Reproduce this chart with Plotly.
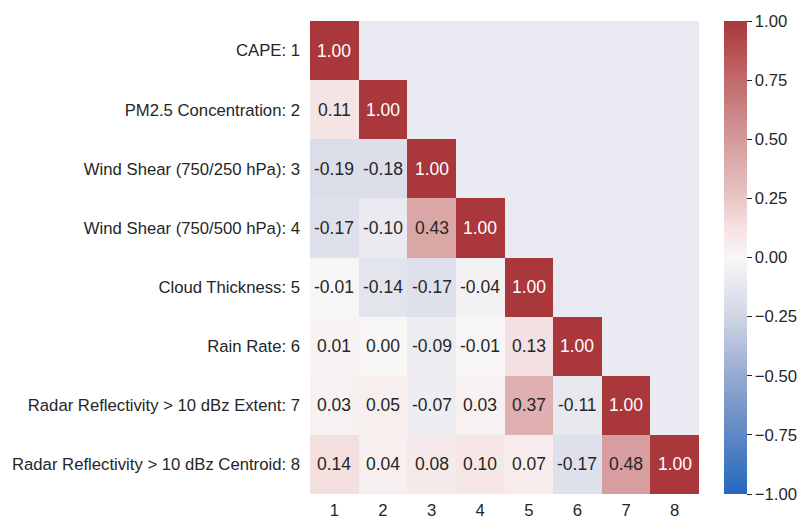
import plotly.graph_objects as go

# Variable names and their correlation matrix (lower triangle incl. diagonal)
labels = [
    "CAPE: 1",
    "PM2.5 Concentration: 2",
    "Wind Shear (750/250 hPa): 3",
    "Wind Shear (750/500 hPa): 4",
    "Cloud Thickness: 5",
    "Rain Rate: 6",
    "Radar Reflectivity > 10 dBz Extent: 7",
    "Radar Reflectivity > 10 dBz Centroid: 8",
]
col_ids = [1, 2, 3, 4, 5, 6, 7, 8]

row1 = [1.00]
row2 = [0.11, 1.00]
row3 = [-0.19, -0.18, 1.00]
row4 = [-0.17, -0.10, 0.43, 1.00]
row5 = [-0.01, -0.14, -0.17, -0.04, 1.00]
row6 = [0.01, 0.00, -0.09, -0.01, 0.13, 1.00]
row7 = [0.03, 0.05, -0.07, 0.03, 0.37, -0.11, 1.00]
row8 = [0.14, 0.04, 0.08, 0.10, 0.07, -0.17, 0.48, 1.00]
rows = [row1, row2, row3, row4, row5, row6, row7, row8]

cbar_ticks = [-1.0, -0.75, -0.5, -0.25, 0.0, 0.25, 0.5, 0.75, 1.0]

# diverging blue-white-red colormap (vlag-like)
stops = [
    (0.000, (35, 105, 189)),
    (0.125, (95, 135, 197)),
    (0.250, (150, 170, 208)),
    (0.375, (208, 213, 229)),
    (0.4375, (230, 231, 238)),
    (0.500, (249, 246, 246)),
    (0.5625, (245, 226, 226)),
    (0.625, (233, 198, 198)),
    (0.750, (214, 153, 154)),
    (0.875, (193, 106, 108)),
    (1.000, (169, 55, 59)),
]
colorscale = [[p, "rgb(%d,%d,%d)" % c] for p, c in stops]


def color_at(v):
    t = (v + 1) / 2
    for (p0, c0), (p1, c1) in zip(stops[:-1], stops[1:]):
        if p0 <= t <= p1:
            f = (t - p0) / (p1 - p0) if p1 > p0 else 0
            return tuple(a + (b - a) * f for a, b in zip(c0, c1))
    return stops[-1][1]


def luminance(rgb):
    def lin(c):
        c = c / 255
        return c / 12.92 if c <= 0.03928 else ((c + 0.055) / 1.055) ** 2.4
    r, g, b = (lin(c) for c in rgb)
    return 0.2126 * r + 0.7152 * g + 0.0722 * b


n = len(labels)
z = [[r[j] if j < len(r) else None for j in range(n)] for r in rows]

FONT = "Liberation Sans, Arial"
TICK_SIZE = 16.7

fig = go.Figure()
fig.add_trace(go.Heatmap(
    z=z,
    x=col_ids,
    y=labels,
    zmin=-1, zmax=1,
    colorscale=colorscale,
    hoverongaps=False,
    colorbar=dict(
        x=1.0643, xanchor="left", xref="paper", xpad=0,
        y=0.5, yanchor="middle", ypad=0,
        thickness=23,
        lenmode="pixels", len=473,
        outlinewidth=0,
        ticks="outside", ticklen=5, tickwidth=1.3, tickcolor="#262626",
        tickvals=cbar_ticks,
        ticktext=[("\u2212%.2f" % -v) if v < 0 else "%.2f" % v for v in cbar_ticks],
        tickfont=dict(family=FONT, size=TICK_SIZE, color="#262626"),
    ),
))

for i, r in enumerate(rows):
    for j, v in enumerate(r):
        lum = luminance(color_at(v))
        fig.add_annotation(
            x=col_ids[j], y=labels[i],
            text="%.2f" % v,
            showarrow=False,
            font=dict(family=FONT, size=17.5,
                      color="#262626" if lum > 0.408 else "white"),
        )

fig.update_layout(
    width=801, height=517,
    margin=dict(l=310, r=102, t=21, b=23, autoexpand=False),
    paper_bgcolor="white",
    plot_bgcolor="#EAEAF2",
    font=dict(family=FONT, size=TICK_SIZE, color="#262626"),
    xaxis=dict(showgrid=False, zeroline=False, showline=False, ticks="",
               range=[0.5, 8.5], tickmode="array", tickvals=col_ids,
               ticktext=[str(c) for c in col_ids],
               ticklabelstandoff=4,
               tickfont=dict(size=TICK_SIZE, color="#262626")),
    yaxis=dict(showgrid=False, zeroline=False, showline=False, ticks="",
               autorange="reversed", ticklabelstandoff=9,
               tickfont=dict(size=TICK_SIZE, color="#262626")),
)

fig.write_html("out.html")
